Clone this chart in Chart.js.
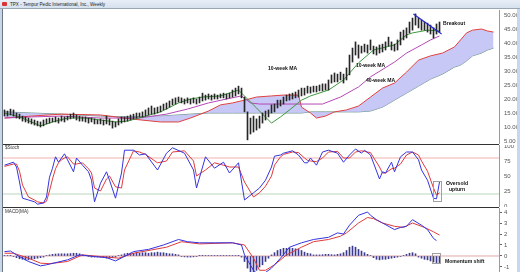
<!DOCTYPE html>
<html><head><meta charset="utf-8">
<script src="https://cdn.jsdelivr.net/npm/chart.js@4/dist/chart.umd.min.js"></script>
<style>
html,body{margin:0;padding:0;width:520px;height:272px;overflow:hidden;background:#fff;font-family:"Liberation Sans",Arial,sans-serif}
.abs{position:absolute}
#leftframe{left:0;top:0;width:3px;height:272px;background:#c9d6e6}
#leftline{left:2px;top:9px;width:1px;height:263px;background:#6b7686}
#rightframe{left:517px;top:0;width:3px;height:272px;background:#c6d8ee}
#titlebar{left:0;top:0;width:520px;height:9px;background:linear-gradient(#e8eef6,#d6e1ee);border-bottom:1px solid #9aa6b4;box-sizing:border-box}
#titletxt{left:10px;top:1px;font-size:4.6px;color:#222;white-space:nowrap;line-height:7px}
#icon{left:2px;top:2px;width:5px;height:4px;background:#d33;border-radius:1px}
.sep{height:1px;background:#333;left:3px;width:496px}
.note{font-size:5.1px;font-weight:bold;color:#111;white-space:nowrap;line-height:6px}
.plab{font-size:4.6px;color:#333;white-space:nowrap;line-height:5px}
canvas{position:absolute}
</style></head>
<body>
<div id="leftframe" class="abs"></div>
<div id="rightframe" class="abs"></div>
<div id="titlebar" class="abs"></div>
<div id="icon" class="abs"></div>
<div id="titletxt" class="abs">TPX - Tempur Pedic International, Inc., Weekly</div>
<canvas id="cPrice" width="514" height="134" style="left:3px;top:10px"></canvas>
<canvas id="cStoch" width="514" height="62" style="left:3px;top:145px"></canvas>
<canvas id="cMacd" width="514" height="64" style="left:3px;top:208px"></canvas>
<div id="leftline" class="abs"></div>
<div class="abs sep" style="top:144px"></div>
<div class="abs sep" style="top:207px"></div>
<div class="abs plab" style="left:5px;top:145px">$Stoch</div>
<div class="abs plab" style="left:5px;top:209px">MACD(MA)</div>
<div class="abs note" style="left:443px;top:20px">Breakout</div>
<div class="abs note" style="left:268px;top:65px">10-week MA</div>
<div class="abs note" style="left:356px;top:62px">10-week MA</div>
<div class="abs note" style="left:366px;top:77px">40-week MA</div>
<div class="abs note" style="left:446px;top:180px">Oversold</div>
<div class="abs note" style="left:449px;top:186px">upturn</div>
<div class="abs note" style="left:445px;top:258px">Momentum shift</div>
<script>
// ---------- DATA ----------
const barHigh = [16.1,15.7,16.4,16.1,15.0,14.6,13.9,13.6,13.2,12.9,
 12.5,12.1,11.8,12.5,12.9,13.2,13.2,13.6,13.2,13.9,
 13.6,13.9,14.6,15.0,14.3,13.9,13.6,13.6,13.2,13.2,
 12.9,12.5,12.9,12.5,13.9,12.9,12.1,11.8,12.9,13.6,
 13.6,13.9,14.3,14.6,15.0,15.0,15.4,16.1,16.8,17.5,
 16.8,17.1,17.5,18.2,18.6,19.3,20.0,20.4,20.7,20.4,
 20.0,20.4,20.0,20.4,20.0,20.7,22.1,21.4,21.8,21.4,
 21.8,21.4,21.8,22.1,21.8,22.1,23.2,23.9,24.6,23.9,
 20.7,15.4,13.2,13.9,12.9,13.9,15.0,15.7,16.1,17.9,
 18.2,19.6,19.6,20.7,21.4,21.8,22.1,22.5,23.2,23.9,
 23.9,24.6,24.3,24.6,24.6,25.0,25.4,25.4,26.8,28.6,
 29.3,28.9,29.6,28.9,31.1,35.7,38.2,40.4,39.3,38.9,
 39.6,39.3,41.1,38.9,38.6,39.3,39.6,40.4,42.1,40.4,
 39.6,41.1,43.9,44.6,45.4,47.5,48.9,50.4,48.9,48.2,
 47.5,47.1,46.4,45.4,46.8,47.5];
const barLow = [13.9,13.9,14.3,13.9,13.2,12.9,12.1,11.8,11.4,11.1,
 10.7,10.4,10.0,10.4,11.1,11.4,11.8,11.8,11.4,12.1,
 11.8,12.5,12.9,13.2,12.5,12.1,12.1,11.8,11.4,11.8,
 11.1,11.1,11.1,10.7,11.1,10.7,9.6,10.0,10.7,11.4,
 11.8,12.1,12.5,12.9,13.2,13.6,13.6,13.9,14.3,14.6,
 14.6,15.0,15.4,16.1,16.4,17.1,17.9,18.2,18.9,18.6,
 18.2,18.6,18.2,18.6,18.2,18.6,19.3,19.6,20.0,19.6,
 20.0,20.0,20.4,20.4,20.0,20.4,20.7,21.1,21.8,20.4,
 15.4,5.4,7.5,8.2,8.9,9.6,11.4,12.5,13.6,15.0,
 15.4,16.8,17.5,18.2,19.3,19.6,20.0,20.4,20.7,21.1,
 21.4,22.1,22.1,22.5,22.5,22.9,22.9,23.2,23.2,25.7,
 26.1,26.1,26.8,25.7,26.8,28.6,33.2,35.7,34.6,36.4,
 36.8,36.4,37.5,36.1,35.7,36.4,36.8,37.5,38.9,37.5,
 37.1,37.5,39.3,41.1,41.8,43.6,44.6,46.4,45.4,44.6,
 44.6,43.9,43.2,41.8,43.2,43.9];

const cloudWeeks = [0,9,19,32,42,52,58,62,68,72,76,80,84,89,93,98,99,102,104,107,110,114,118,122,126,130,134,138,142,146,150,152,154,156,159,161,163];
const spanA = [13.2,13.9,14.6,14.3,12.9,11.8,11.8,13.2,15.7,17.9,18.6,19.6,20.7,21.1,21.4,21.4,17.1,15.0,13.2,13.9,15.4,16.1,17.5,20.7,23.9,25.7,29.6,33.9,35.4,36.4,38.6,41.1,43.6,44.6,45.0,44.3,43.9];
const spanB = [15.4,15.0,14.6,13.9,13.6,13.9,14.3,14.6,15.0,15.0,15.0,15.0,15.0,15.0,15.0,15.0,15.0,15.4,15.4,15.4,15.4,15.4,15.4,15.7,17.1,19.6,22.1,24.6,27.1,28.9,31.4,32.1,33.6,35.4,36.4,37.5,38.2];

const ma40Weeks = [0,9,19,32,45,54,61,68,74,79,82,85,106,112,118,122,130,134,139,142,145];
const ma40 = [13.2,13.6,13.9,13.2,13.2,14.6,16.4,18.6,20.0,21.1,18.6,18.2,18.2,20.7,24.3,27.9,33.2,36.4,39.3,41.1,42.5];

const ma10Weeks = [0,5,12,17,21,27,32,37,41,46,52,58,62,66,72,78,84,89,92,95,99,102,108,113,118,123,130,134,136,141,145];
const ma10 = [15.0,13.6,10.4,12.1,13.2,13.2,12.5,11.8,12.1,13.6,15.4,18.6,20.0,20.7,21.1,23.2,16.8,11.4,13.6,16.1,19.6,21.1,23.2,26.8,32.9,37.5,39.3,42.9,43.6,44.6,44.3];

const trendWeeks = [136.3,145.7];
const trendVals = [50.4,43.2];
const priceTicks = [5,10,15,20,25,30,35,40,45,50];

const stochWeeks = [0,3,4,5,6,8,10,11,13,14,15,16,17,18,19,20,21,23,24,26,28,29,30,32,34,35,37,39,40,43,45,47,51,54,56,60,63,64,67,70,73,75,78,80,83,85,87,89,90,92,93,96,98,100,101,102,104,106,108,111,113,115,117,119,120,122,125,126,127,129,130,132,134,136,138,139,141,143,144,145];
const stochK = [68,73,65,40,13,10,7,3,5,15,48,63,82,73,80,87,77,57,80,68,57,43,7,38,57,43,13,55,93,93,85,87,60,88,97,88,60,30,82,63,73,55,72,10,22,30,43,65,83,85,88,92,85,72,72,80,68,90,93,88,73,85,95,88,93,85,45,57,55,73,57,82,90,90,77,60,43,13,12,40];
const stochD = [66,70,70,58,35,15,10,7,5,8,25,45,62,72,77,80,82,70,70,72,62,55,30,25,45,50,32,30,60,92,90,86,72,75,90,92,75,50,60,72,68,65,65,40,15,22,33,50,68,82,86,90,89,80,76,75,74,80,90,91,80,80,90,92,91,89,65,55,55,62,63,70,85,90,85,75,58,30,18,22];
const stochLevels = [80,20];
const stochTicks = [0,25,50,75,100];

const macdWeeks = [0,2,4,8,12,14,21,25,30,34,37,41,43,48,53,58,61,65,70,76,79,80,83,85,87,89,92,95,99,103,108,111,113,115,118,121,122,124,126,130,132,134,136,139,141,143,144];
const macdLine = [0.4,0.45,0.1,-0.5,-0.9,-0.8,-0.35,0.1,-0.05,-0.15,-0.45,0.1,0.4,0.6,1.0,1.5,1.3,1.2,1.2,1.2,1.0,0.1,-1.3,-1.8,-1.5,-1.1,-0.2,0.8,1.2,1.5,1.7,2.1,2.0,2.8,3.7,4.0,3.7,3.3,3.0,2.4,2.6,2.7,3.3,2.8,2.4,1.6,1.4];
const signalWeeks = [0,3,8,12,15,21,26,32,38,43,49,54,59,65,76,80,83,85,87,90,94,99,103,108,112,114,118,121,123,126,130,133,136,140,143,145];
const signalLine = [0.25,0.25,-0.2,-0.65,-0.7,-0.5,0.1,-0.05,-0.2,0.25,0.55,0.8,1.3,1.1,1.2,1.0,-0.2,-1.3,-1.3,-0.8,0.1,0.8,1.3,1.5,1.8,2.1,3.0,3.5,3.4,3.0,2.7,2.6,3.0,2.6,2.2,1.9];
const macdHist = [0.05,0.05,0.03,-0.05,-0.15,-0.25,-0.3,-0.35,-0.35,-0.3,
 -0.25,-0.2,-0.15,-0.1,0.05,0.1,0.15,0.18,0.2,0.2,
 0.2,0.2,0.22,0.25,0.25,0.2,0.1,0.05,-0.05,-0.1,
 -0.1,-0.1,-0.1,-0.15,-0.2,-0.2,-0.15,-0.1,0.05,0.1,
 0.2,0.25,0.25,0.25,0.3,0.25,0.3,0.3,0.25,0.3,
 0.3,0.35,0.3,0.3,0.25,0.2,0.2,0.15,0.1,-0.05,
 -0.08,-0.1,-0.1,-0.08,-0.05,0.03,0.03,0.05,0.05,0.05,
 0.05,0.05,0.05,0.05,0.05,0.05,0.05,0.05,0.03,-0.1,
 -0.5,-1.1,-1.5,-1.6,-1.3,-1.0,-0.8,-0.5,-0.2,0.1,
 0.3,0.5,0.6,0.7,0.7,0.75,0.7,0.65,0.6,0.5,
 0.35,0.25,0.2,0.1,0.1,0.1,0.12,0.15,0.15,0.12,
 0.1,0.15,0.2,0.3,0.5,0.8,0.9,0.8,0.6,0.45,
 0.3,0.15,0.05,-0.15,-0.3,-0.35,-0.3,-0.3,-0.25,-0.2,
 -0.15,-0.1,-0.05,0.05,0.15,0.25,0.3,0.2,-0.1,-0.2,
 -0.3,-0.35,-0.45,-0.55,-0.6,-0.6];
const macdTicks = [-1,0,1,2,3,4];

// ---------- HELPERS ----------
const pts = (xs, ys) => xs.map((x, k) => ({x, y: ys[k]}));
const XMIN = -0.5, XMAX = 164.83;
const xScale = {type:'linear', min:XMIN, max:XMAX, display:false, offset:false};
function yAxis(min, max, ticks, fmt, marks){
  return {position:'right', min, max,
    afterBuildTicks(s){ s.ticks = ticks.map(v => ({value:v})); },
    afterFit(s){ s.width = 18; s.paddingTop = 0; s.paddingBottom = 0; },
    ticks:{font:{size:6, family:'"Liberation Sans", Arial, sans-serif', lineHeight:1}, color:'#555', padding: marks ? 2 : 5, callback: fmt},
    grid:{drawOnChartArea:false, drawTicks:!!marks, tickLength:3, color:'#666'},
    border:{display:true, color:'#9a9a9a'}};
}
function line(data, color, order, extra){
  return Object.assign({type:'line', data, borderColor:color, borderWidth:1, pointRadius:0, tension:0, fill:false, order}, extra||{});
}
const boxPlugin = {id:'boxes', afterDatasetsDraw(chart, a, opts){
  const b = opts.box; if(!b) return;
  const {ctx, scales:{x, y}} = chart;
  const x0 = Math.round(x.getPixelForValue(b.x0)) + 0.5, x1 = Math.round(x.getPixelForValue(b.x1)) + 0.5;
  const y0 = Math.round(y.getPixelForValue(b.y1)) + 0.5, y1 = Math.round(y.getPixelForValue(b.y0)) + 0.5;
  ctx.save(); ctx.strokeStyle = '#a0a0a0'; ctx.lineWidth = 1; ctx.strokeRect(x0, y0, x1 - x0, y1 - y0); ctx.restore();
}};
const common = {responsive:false, animation:false, devicePixelRatio:1, events:[],
  layout:{padding:0}, plugins:{legend:{display:false}, tooltip:{enabled:false}}};
const full = [XMIN - 1, XMAX + 1];

// ---------- PRICE ----------
new Chart(document.getElementById('cPrice'), {
  type:'line',
  data:{datasets:[
    line(pts(trendWeeks, trendVals), '#2a2ad0', 0, {borderWidth:1.2}),
    {type:'bar', data: barHigh.map((h, i) => ({x:i, y:[barLow[i], h]})), backgroundColor:'#262626', barThickness:1, order:1},
    line(pts(ma10Weeks, ma10), '#3c9a3c', 2),
    line(pts(ma40Weeks, ma40), '#b548b5', 3),
    line(pts(cloudWeeks, spanA), '#e2403f', 5, {fill:{target:'+1', above:'rgba(190,190,245,0.85)', below:'rgba(190,190,245,0.85)'}}),
    line(pts(cloudWeeks, spanB), '#6f9a86', 6)
  ]},
  options:Object.assign({}, common, {scales:{x:xScale, y:yAxis(3.93, 51.79, priceTicks, v => v.toFixed(2), false)}})
});

// ---------- STOCHASTIC ----------
new Chart(document.getElementById('cStoch'), {
  type:'line',
  data:{datasets:[
    line(pts(stochWeeks, stochK), '#3434e0', 1),
    line(pts(stochWeeks, stochD), '#e03a3a', 2),
    line(pts(full, [stochLevels[0], stochLevels[0]]), '#f2b0b0', 3),
    line(pts(full, [stochLevels[1], stochLevels[1]]), '#b9d6bd', 3)
  ]},
  options:Object.assign({}, common, {
    plugins:{legend:{display:false}, tooltip:{enabled:false}, boxes:{box:{x0:142.8, x1:145.4, y0:8, y1:42}}},
    scales:{x:xScale, y:yAxis(-1.67, 101.67, stochTicks, v => String(v), false)}}),
  plugins:[boxPlugin]
});

// ---------- MACD ----------
new Chart(document.getElementById('cMacd'), {
  type:'line',
  data:{datasets:[
    line(pts(macdWeeks, macdLine), '#3434e0', 1),
    line(pts(signalWeeks, signalLine), '#e03a3a', 2),
    {type:'bar', data: macdHist.map((v, i) => ({x:i, y:v})), backgroundColor:'#3a3a90', barThickness:1, order:3},
    line(pts(full, [0, 0]), '#e0a8a8', 4)
  ]},
  options:Object.assign({}, common, {
    plugins:{legend:{display:false}, tooltip:{enabled:false}, boxes:{box:{x0:142.6, x1:145.3, y0:-0.65, y1:0.3}}},
    scales:{x:xScale, y:yAxis(-1.455, 4.364, macdTicks, v => String(v), true)}}),
  plugins:[boxPlugin]
});
</script>
</body></html>
